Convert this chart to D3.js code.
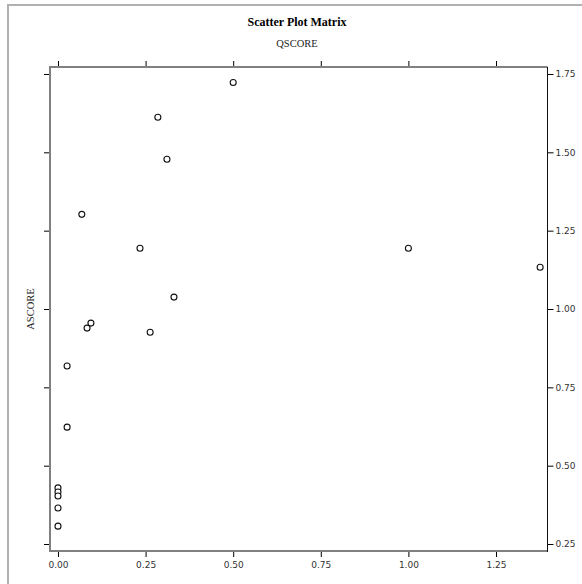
<!DOCTYPE html>
<html lang="en">
<head>
    <style>
        body { margin: 0; background: white; }
        svg { display: block; }
        .tick text { font-family: "DejaVu Sans", sans-serif; font-size: 9px; fill: #333; }
        .tick line { stroke: #000; }
    </style>
    <script src="https://d3js.org/d3.v7.min.js"></script>
</head>
<body>
    <svg id="chart"></svg>
    <script>
        // data
        const qscore = [0.50, 0.285, 0.311, 0.068, 0.234, 1.00, 1.376, 0.331, 0.094, 0.083, 0.263, 0.026, 0.026, 0, 0, 0, 0, 0];
        const ascore = [1.723, 1.612, 1.478, 1.302, 1.194, 1.194, 1.133, 1.038, 0.955, 0.939, 0.926, 0.818, 0.623, 0.429, 0.416, 0.403, 0.365, 0.307];
        const xTicks = [0, 0.25, 0.5, 0.75, 1.0, 1.25];
        const yTicks = [0.25, 0.5, 0.75, 1.0, 1.25, 1.5, 1.75];

        const W = 582, H = 584;
        const box = {left: 50, right: 547.5, top: 67, bottom: 551};

        const svg = d3.select("#chart").attr("width", W).attr("height", H);

        // outer frame (clipped at right and bottom)
        svg.append("path")
            .attr("d", `M8,${H} L8,5 L${W},5`)
            .attr("fill", "none").attr("stroke", "#b0b0b0").attr("stroke-width", 2);

        const x = d3.scaleLinear().domain([-0.0228, 1.397]).range([box.left, box.right]);
        const y = d3.scaleLinear().domain([0.2277, 1.7723]).range([box.bottom, box.top]);

        const fmt = d3.format(".2f");

        // axes
        const gBottom = svg.append("g").attr("transform", `translate(0,${box.bottom})`)
            .call(d3.axisBottom(x).tickValues(xTicks).tickFormat(fmt).tickSize(6).tickPadding(5));
        const gTop = svg.append("g").attr("transform", `translate(0,${box.top})`)
            .call(d3.axisTop(x).tickValues(xTicks).tickFormat("").tickSize(6));
        const gLeft = svg.append("g").attr("transform", `translate(${box.left},0)`)
            .call(d3.axisLeft(y).tickValues(yTicks).tickFormat("").tickSize(6));
        const gRight = svg.append("g").attr("transform", `translate(${box.right},0)`)
            .call(d3.axisRight(y).tickValues(yTicks).tickFormat(fmt).tickSize(6).tickPadding(2));
        [gBottom, gTop, gLeft, gRight].forEach(g => g.select(".domain").remove());

        // box lines: left/top/bottom gray, right dark
        svg.append("path")
            .attr("d", `M${box.right},${box.top} L${box.left},${box.top} L${box.left},${box.bottom} L${box.right},${box.bottom}`)
            .attr("fill", "none").attr("stroke", "#808080").attr("stroke-width", 2);
        svg.append("line")
            .attr("x1", box.right).attr("x2", box.right).attr("y1", box.top).attr("y2", box.bottom + 1)
            .attr("stroke", "#111").attr("stroke-width", 1);

        // points
        svg.append("g").selectAll("circle")
            .data(qscore.map((q, i) => [q, ascore[i]]))
            .join("circle")
            .attr("cx", d => x(d[0]))
            .attr("cy", d => y(d[1]))
            .attr("r", 3)
            .attr("fill", "white")
            .attr("stroke", "#111")
            .attr("stroke-width", 1.1);

        // titles
        svg.append("text")
            .attr("x", 297).attr("y", 26)
            .attr("text-anchor", "middle")
            .style("font-family", "'Liberation Serif', serif")
            .style("font-weight", "bold")
            .style("font-size", "12px")
            .text("Scatter Plot Matrix");
        svg.append("text")
            .attr("x", 297).attr("y", 47)
            .attr("text-anchor", "middle")
            .style("font-family", "'Liberation Serif', serif")
            .style("font-size", "10.5px")
            .style("fill", "#222")
            .text("QSCORE");
        svg.append("text")
            .attr("transform", `translate(34,${(box.top + box.bottom) / 2}) rotate(-90)`)
            .attr("text-anchor", "middle")
            .style("font-family", "'Liberation Serif', serif")
            .style("font-size", "10.5px")
            .style("fill", "#222")
            .text("ASCORE");
    </script>
</body>
</html>
